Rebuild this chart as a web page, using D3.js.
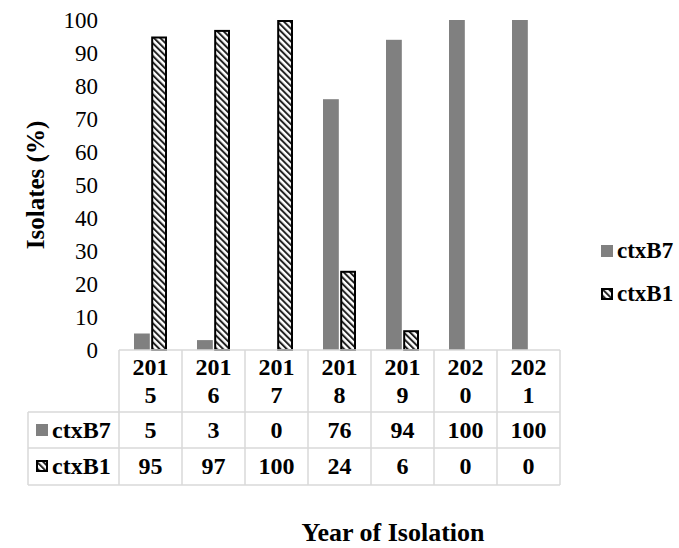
<!DOCTYPE html>
<html>
<head>
<meta charset="utf-8">
<script src="https://cdn.jsdelivr.net/npm/d3@7"></script>
<style>
  body { margin: 0; background: #fff; }
  svg text { font-family: "Liberation Serif", "Times New Roman", serif !important; fill: #000; }
</style>
</head>
<body>
<div class="chart"></div>
<script>
// chart data
const years = ['2015', '2016', '2017', '2018', '2019', '2020', '2021'];
const series = ['ctxB7', 'ctxB1'];
const ctxB7 = [5, 3, 0, 76, 94, 100, 100];
const ctxB1 = [95, 97, 100, 24, 6, 0, 0];
const yTicks = [0, 10, 20, 30, 40, 50, 60, 70, 80, 90, 100];

const width = 679, height = 548;
const plot = {left: 119, right: 560, top: 20, bottom: 350};
const rowH = [62, 36, 37];
const labelLeft = 28;
const border = '#d9d9d9';
const gray = '#808080';

const svg = d3.select('.chart').append('svg')
	.attr('width', width)
	.attr('height', height);

// hatch pattern for ctxB1
const defs = svg.append('defs');
const pat = defs.append('pattern')
	.attr('id', 'hatch')
	.attr('patternUnits', 'userSpaceOnUse')
	.attr('width', 4.5)
	.attr('height', 4.5)
	.attr('patternTransform', 'rotate(-45)');
pat.append('rect').attr('width', 4.5).attr('height', 4.5).attr('fill', '#fff');
pat.append('rect').attr('x', 0).attr('width', 2).attr('height', 4.5).attr('fill', '#222');

const xScale = d3.scaleBand()
	.domain(years)
	.range([plot.left, plot.right]);

const xInner = d3.scaleBand()
	.domain(series)
	.range([15, 48])
	.paddingInner(0.08);

const yScale = d3.scaleLinear()
	.domain([0, 100])
	.range([plot.bottom, plot.top]);

const yAxis = d3.axisLeft(yScale)
	.tickValues(yTicks)
	.tickSize(0)
	.tickPadding(21);

const gy = svg.append('g')
	.attr('transform', `translate(${plot.left},0)`)
	.call(yAxis);
gy.select('.domain').remove();
gy.selectAll('text')
	.attr('font-size', 23)
	.attr('dy', '0.34em');

const rows = years.map((y, i) => ({year: y, ctxB7: ctxB7[i], ctxB1: ctxB1[i]}));

// gray bars
svg.selectAll('.b7')
	.data(rows)
	.enter()
	.append('rect')
	.attr('class', 'b7')
	.attr('x', d => xScale(d.year) + xInner('ctxB7'))
	.attr('width', xInner.bandwidth())
	.attr('y', d => yScale(d.ctxB7))
	.attr('height', d => yScale(0) - yScale(d.ctxB7))
	.attr('fill', gray);

// hatched bars
svg.selectAll('.b1')
	.data(rows.filter(d => d.ctxB1 > 0))
	.enter()
	.append('rect')
	.attr('class', 'b1')
	.attr('x', d => xScale(d.year) + xInner('ctxB1') + 1)
	.attr('width', xInner.bandwidth() - 2)
	.attr('y', d => yScale(d.ctxB1) + 1)
	.attr('height', d => yScale(0) - yScale(d.ctxB1) - 1)
	.attr('fill', 'url(#hatch)')
	.attr('stroke', '#000')
	.attr('stroke-width', 2);

// data table
const y0 = plot.bottom;
const y1 = y0 + rowH[0];
const y2 = y1 + rowH[1];
const y3 = y2 + rowH[2];
const table = svg.append('g')
	.attr('stroke', border)
	.attr('stroke-width', 1.5)
	.attr('fill', 'none');

table.append('line').attr('x1', plot.left).attr('x2', plot.right).attr('y1', y0).attr('y2', y0);
[y1, y2, y3].forEach(yy => {
	table.append('line').attr('x1', labelLeft).attr('x2', plot.right).attr('y1', yy).attr('y2', yy);
});
table.append('line').attr('x1', labelLeft).attr('x2', labelLeft).attr('y1', y1).attr('y2', y3);
years.concat(['end']).forEach((yr, i) => {
	const xx = plot.left + i * xScale.bandwidth();
	table.append('line').attr('x1', xx).attr('x2', xx).attr('y1', y0).attr('y2', y3);
});

const cells = svg.append('g')
	.attr('font-weight', 'bold')
	.attr('font-size', 24)
	.attr('text-anchor', 'middle');

years.forEach(yr => {
	const cx = xScale(yr) + xScale.bandwidth() / 2;
	cells.append('text').attr('x', cx).attr('y', y0 + 25).text(yr.slice(0, 3));
	cells.append('text').attr('x', cx).attr('y', y0 + 53).text(yr.slice(3));
});

rows.forEach(d => {
	const cx = xScale(d.year) + xScale.bandwidth() / 2;
	cells.append('text').attr('x', cx).attr('y', y1 + 26).text(d.ctxB7);
	cells.append('text').attr('x', cx).attr('y', y2 + 26).text(d.ctxB1);
});

// legend keys
function key(g, name, x, y) {
	if (name === 'ctxB7') {
		g.append('rect').attr('x', x).attr('y', y).attr('width', 12).attr('height', 12).attr('fill', gray);
	} else {
		g.append('rect').attr('x', x + 1).attr('y', y + 1).attr('width', 10).attr('height', 10)
			.attr('fill', 'url(#hatch)').attr('stroke', '#000').attr('stroke-width', 2);
	}
}

const rowKeys = svg.append('g');
series.forEach((s, i) => {
	const yy = (i === 0 ? y1 : y2);
	key(rowKeys, s, 36, yy + 12);
	rowKeys.append('text')
		.attr('x', 52)
		.attr('y', yy + 26)
		.attr('font-weight', 'bold')
		.attr('font-size', 24)
		.text(s);
});

const legend = svg.append('g');
series.forEach((s, i) => {
	key(legend, s, 601, 245 + i * 43);
	legend.append('text')
		.attr('x', 617)
		.attr('y', 258 + i * 43)
		.attr('font-weight', 'bold')
		.attr('font-size', 23)
		.text(s);
});

// axis titles
svg.append('text')
	.attr('transform', 'translate(44,185) rotate(-90)')
	.attr('text-anchor', 'middle')
	.attr('font-weight', 'bold')
	.attr('font-size', 25)
	.text('Isolates (%)');

svg.append('text')
	.attr('x', 393)
	.attr('y', 541)
	.attr('text-anchor', 'middle')
	.attr('font-weight', 'bold')
	.attr('font-size', 26)
	.text('Year of Isolation');
</script>
</body>
</html>
